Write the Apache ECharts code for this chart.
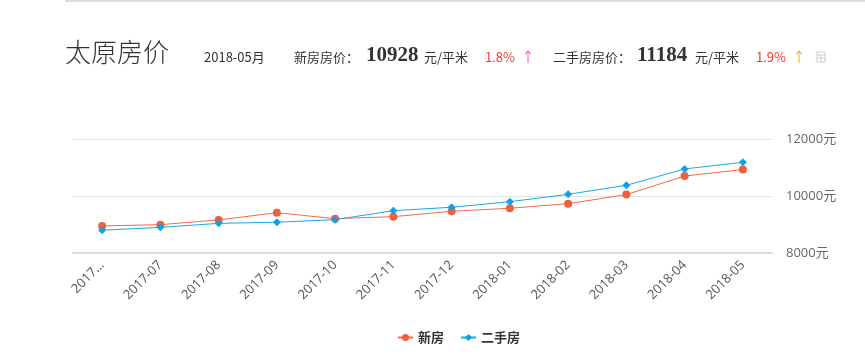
<!DOCTYPE html>
<html><head><meta charset="utf-8">
<script src="https://cdn.jsdelivr.net/npm/echarts@6/dist/echarts.min.js"></script>
<style>html,body{margin:0;padding:0;background:#fff}#c{width:865px;height:363px}</style>
</head><body><div id="c"></div>
<script>
var months = ['2017-06','2017-07','2017-08','2017-09','2017-10','2017-11','2017-12','2018-01','2018-02','2018-03','2018-04','2018-05'];
var newHouse = [8950, 8995, 9160, 9415, 9205, 9275, 9465, 9570, 9730, 10050, 10700, 10928];
var secondHand = [8800, 8900, 9040, 9080, 9170, 9485, 9605, 9800, 10060, 10375, 10950, 11184];
var yTicks = [8000, 10000, 12000];
var seriesNames = ['新房', '二手房'];

var chart = echarts.init(document.getElementById('c'));
var cjk = '"Noto Sans CJK SC", sans-serif';
chart.setOption({
  animation: false,
  graphic: [
    {type: 'rect', shape: {x: 65, y: 0, width: 800, height: 2}, style: {fill: '#dddddd'}},
    {type: 'text', x: 65, y: 52, style: {text: '太原房价', fontSize: 26, fontWeight: 300, fill: '#333', fontFamily: cjk, verticalAlign: 'middle'}},
    {type: 'text', x: 204, y: 57, style: {text: '2018-05月', fontSize: 13, fill: '#333', fontFamily: cjk, verticalAlign: 'middle'}},
    {type: 'text', x: 294, y: 57, style: {text: '新房房价：', fontSize: 13, fill: '#333', fontFamily: cjk, verticalAlign: 'middle'}},
    {type: 'text', x: 366, y: 56, style: {text: '10928', fontSize: 21, fontWeight: 'bold', fill: '#333', fontFamily: '"Liberation Serif", serif', verticalAlign: 'middle'}},
    {type: 'text', x: 424, y: 57, style: {text: '元/平米', fontSize: 13, fill: '#333', fontFamily: cjk, verticalAlign: 'middle'}},
    {type: 'text', x: 485, y: 57, style: {text: '1.8%', fontSize: 13, fill: '#f03c2c', fontFamily: cjk, verticalAlign: 'middle'}},
    {type: 'text', x: 521, y: 57, style: {text: '↑', fontSize: 14, fill: '#f066b8', fontFamily: cjk, verticalAlign: 'middle'}},
    {type: 'text', x: 553, y: 57, style: {text: '二手房房价：', fontSize: 13, fill: '#333', fontFamily: cjk, verticalAlign: 'middle'}},
    {type: 'text', x: 637, y: 56, style: {text: '11184', fontSize: 21, fontWeight: 'bold', fill: '#333', fontFamily: '"Liberation Serif", serif', verticalAlign: 'middle'}},
    {type: 'text', x: 695, y: 57, style: {text: '元/平米', fontSize: 13, fill: '#333', fontFamily: cjk, verticalAlign: 'middle'}},
    {type: 'text', x: 756, y: 57, style: {text: '1.9%', fontSize: 13, fill: '#f03c2c', fontFamily: cjk, verticalAlign: 'middle'}},
    {type: 'text', x: 792, y: 57, style: {text: '↑', fontSize: 14, fill: '#f0b030', fontFamily: cjk, verticalAlign: 'middle'}},
    {type: 'rect', shape: {x: 817, y: 52, width: 8, height: 10}, style: {fill: '#fff', stroke: '#cccccc', lineWidth: 1}},
    {type: 'line', shape: {x1: 817, y1: 55, x2: 825, y2: 55}, style: {stroke: '#cccccc'}},
    {type: 'line', shape: {x1: 817, y1: 58, x2: 825, y2: 58}, style: {stroke: '#cccccc'}},
    {type: 'line', shape: {x1: 821, y1: 55, x2: 821, y2: 62}, style: {stroke: '#cccccc'}}
  ],
  legend: {
    bottom: 14, left: 392, itemGap: 16, itemWidth: 15, itemHeight: 9,
    textStyle: {fontSize: 13, fontWeight: 'bold', color: '#333', fontFamily: cjk},
    data: seriesNames
  },
  grid: {left: 73, right: 93, top: 139, bottom: 110, containLabel: false},
  xAxis: {
    type: 'category', data: months, boundaryGap: true,
    axisLine: {lineStyle: {color: '#dddddd', width: 2}},
    axisTick: {alignWithLabel: true, length: 10, inside: true, lineStyle: {color: '#e0e0e0'}},
    axisLabel: {rotate: 45, interval: 0, fontSize: 13, color: '#555', fontFamily: '"Open Sans", sans-serif', margin: 10,
      formatter: function (v, i) { return i === 0 ? v.slice(0, 4) + '...' : v; }}
  },
  yAxis: {
    type: 'value', position: 'right', min: yTicks[0], max: yTicks[yTicks.length - 1], interval: yTicks[1] - yTicks[0],
    axisLine: {show: false}, axisTick: {show: false},
    axisLabel: {formatter: function (v) { return v + '元'; }, fontSize: 13, color: '#666', margin: 14, fontFamily: '"Open Sans", ' + cjk},
    splitLine: {lineStyle: {color: '#e3e3e3', width: 1}}
  },
  series: [
    {name: seriesNames[0], type: 'line', data: newHouse, symbol: 'circle', symbolSize: 8,
     itemStyle: {color: '#ee5f3c'}, lineStyle: {width: 1, color: '#ee6a4c'}},
    {name: seriesNames[1], type: 'line', data: secondHand, symbol: 'diamond', symbolSize: 8,
     itemStyle: {color: '#0fa2e3'}, lineStyle: {width: 1, color: '#1aa8e6'}}
  ]
});
</script></body></html>
